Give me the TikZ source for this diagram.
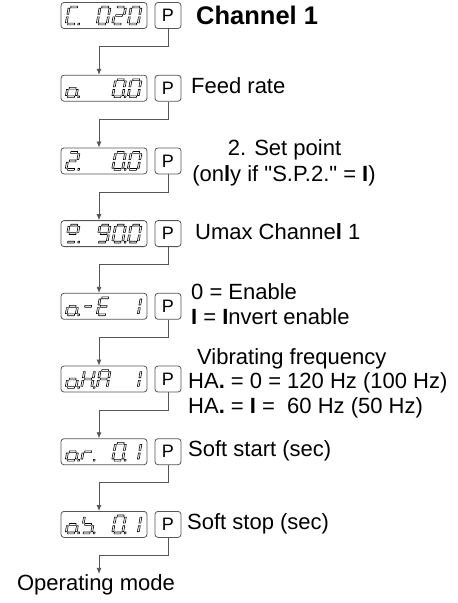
\documentclass[tikz,border=0pt]{standalone}
\usepackage{fontspec}
\setmainfont{Liberation Sans}[Ligatures=TeXOff]
\usetikzlibrary{arrows.meta}
\definecolor{lc}{HTML}{555555}
\def\dsl{0.18}
\newcommand\dsg[4]{\draw[segline] ({\dX+#1+\dsl*(#2)},{\dY-(#2)}) -- ({\dX+#3+\dsl*(#2)},{\dY-(#2)}) -- ({\dX+#3+\dsl*(#4)},{\dY-(#4)}) -- ({\dX+#1+\dsl*(#4)},{\dY-(#4)}) -- cycle;}
\expandafter\def\csname dseg-a\endcsname{\dsg{1.6}{16.6}{8.4}{18.4}}
\expandafter\def\csname dseg-g\endcsname{\dsg{1.6}{8.1}{8.4}{9.9}}
\expandafter\def\csname dseg-d\endcsname{\dsg{1.6}{-0.4}{8.4}{1.4}}
\expandafter\def\csname dseg-f\endcsname{\dsg{-0.9}{10.3}{0.9}{16.3}}
\expandafter\def\csname dseg-e\endcsname{\dsg{-0.9}{1.7}{0.9}{7.7}}
\expandafter\def\csname dseg-b\endcsname{\dsg{9.1}{10.3}{10.9}{16.3}}
\expandafter\def\csname dseg-c\endcsname{\dsg{9.1}{1.7}{10.9}{7.7}}
\expandafter\def\csname dseg-p\endcsname{\dsg{11.8}{-0.4}{13.4}{1.4}}
\newcommand\sevdig[3]{\pgfmathsetmacro\dX{66+15.5*#2}\pgfmathsetmacro\dY{#1+9}%
  \foreach \q in {#3}{\csname dseg-\q\endcsname}}
\begin{document}
\begin{tikzpicture}[x=1pt,y=-1pt,
  segline/.style={draw=black,line width=0.6pt,line join=round},
  disp/.style={draw=lc,line width=0.8pt,rounded corners=3pt,minimum width=86pt,minimum height=26pt,inner sep=0pt,fill=white},
  pkey/.style={draw=lc,line width=0.8pt,rounded corners=3pt,minimum width=26pt,minimum height=26pt,inner sep=0pt,fill=white,font=\fontsize{18}{18}\selectfont},
  conn/.style={draw=lc,line width=0.8pt,-{Latex[length=6pt,width=5pt]}},
  txt/.style={anchor=base west,inner sep=0pt,font=\fontsize{22}{25}\selectfont},
  ctxt/.style={txt,anchor=base}]
\fill[white] (0,0) rectangle (458,603);
\useasboundingbox (0,0) rectangle (458,603);
\foreach \i/\c in {1/15.5,2/88.2,3/160.9,4/233.6,5/306.3,6/379.0,7/451.7,8/524.4}{
  \node[disp] (d\i) at (104,\c) {};
  \node[pkey] (p\i) at (168,\c) {P};
  \coordinate (k\i) at (99,{\c+31});
}
% seven segment contents
\sevdig{15.5}{0}{a,f,e,d,p}\sevdig{15.5}{2}{a,b,c,d,e,f}\sevdig{15.5}{3}{a,b,g,e,d}\sevdig{15.5}{4}{a,b,c,d,e,f}
\sevdig{88.2}{0}{g,c,d,e,p}\sevdig{88.2}{3}{a,b,c,d,e,f,p}\sevdig{88.2}{4}{a,b,c,d,e,f}
\sevdig{160.9}{0}{a,b,g,e,d,p}\sevdig{160.9}{3}{a,b,c,d,e,f,p}\sevdig{160.9}{4}{a,b,c,d,e,f}
\sevdig{233.6}{0}{a,b,f,g,d,p}\sevdig{233.6}{2}{a,b,c,d,f,g}\sevdig{233.6}{3}{a,b,c,d,e,f,p}\sevdig{233.6}{4}{a,b,c,d,e,f}
\sevdig{306.3}{0}{g,c,d,e,p}\sevdig{306.3}{1}{g}\sevdig{306.3}{2}{a,f,g,e,d}\sevdig{306.3}{4}{b,c}
\sevdig{379.0}{0}{g,c,d,e,p}\sevdig{379.0}{1}{b,c,e,f,g,p}\sevdig{379.0}{2}{a,b,c,e,f,g}\sevdig{379.0}{4}{b,c}
\sevdig{451.7}{0}{g,c,d,e,p}\sevdig{451.7}{1}{e,g,p}\sevdig{451.7}{3}{a,b,c,d,e,f,p}\sevdig{451.7}{4}{b,c}
\sevdig{524.4}{0}{g,c,d,e,p}\sevdig{524.4}{1}{f,g,c,d,p}\sevdig{524.4}{3}{a,b,c,d,e,f,p}\sevdig{524.4}{4}{b,c}
% texts
\node[txt,font=\bfseries\fontsize{25.5}{28}\selectfont] (t1) at (196,24.5) {Channel 1};
\node[txt] (t2) at (191,93.7) {Feed rate};
\node[ctxt] (t3a) at (284.5,155.4) {2. Set point};
\node[ctxt] (t3b) at (284,181) {(on\textbf{l}y if "S.P.2." = \textbf{I})};
\node[txt] (t4) at (195,239.1) {Umax Channe\textbf{l} 1};
\node[txt] (t5a) at (191,299.3) {0 = Enable};
\node[txt] (t5b) at (191,324.3) {\textbf{I} = \textbf{I}nvert enable};
\node[txt] (t6a) at (197,364) {Vibrating frequency};
\node[txt] (t6b) at (188,388.5) {HA\textbf{.} = 0 = 120 Hz (100 Hz)};
\node[txt] (t6c) at (188,413) {HA\textbf{.} = \textbf{I} =\ \ 60 Hz (50 Hz)};
\node[txt] (t7) at (188,456.7) {Soft start (sec)};
\node[txt] (t8) at (187,529.9) {Soft stop (sec)};
\node[ctxt] (om) at (96,590) {Operating mode};
% connectors
\foreach \i/\j in {1/2,2/3,3/4,4/5,5/6,6/7,7/8}
  \draw[conn] (p\i.south) |- (k\i) -- (k\i |- d\j.north);
\draw[conn] (p8.south) |- (k8) -- (k8 |- om.north);
\end{tikzpicture}
\end{document}
